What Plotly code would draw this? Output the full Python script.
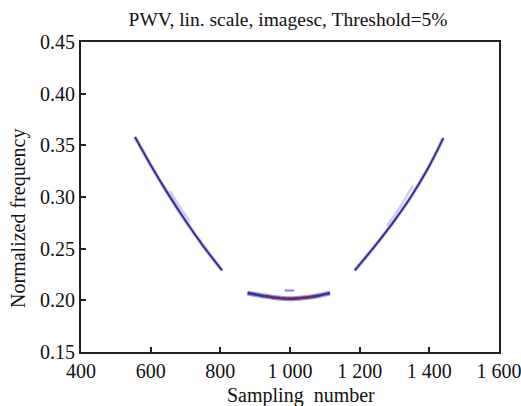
import plotly.graph_objects as go

# Data
left_x = [555, 600, 650, 700, 750, 805]
left_y = [0.358, 0.331, 0.303, 0.277, 0.253, 0.229]
right_x = [1186, 1240, 1295, 1345, 1395, 1440]
right_y = [0.229, 0.251, 0.275, 0.299, 0.327, 0.357]
bottom_x = [878, 920, 960, 1000, 1040, 1080, 1115]
bottom_y = [0.207, 0.2045, 0.2025, 0.2015, 0.2025, 0.2045, 0.207]
core_x = [930, 965, 1000, 1035, 1070]
core_y = [0.2038, 0.2024, 0.2015, 0.2024, 0.2038]
ghost_l_x = [655, 685, 713]
ghost_l_y = [0.306, 0.290, 0.276]
ghost_r_x = [1278, 1315, 1353]
ghost_r_y = [0.272, 0.290, 0.311]
tick_dash_x = [985, 1012]
tick_dash_y = [0.2095, 0.2095]

x_ticks = [400, 600, 800, 1000, 1200, 1400, 1600]
x_ticktext = ["400", "600", "800", "1 000", "1 200", "1 400", "1 600"]
y_ticks = [0.15, 0.20, 0.25, 0.30, 0.35, 0.40, 0.45]
y_ticktext = ["0.15", "0.20", "0.25", "0.30", "0.35", "0.40", "0.45"]

fig = go.Figure()
for xs, ys in [(ghost_l_x, ghost_l_y), (ghost_r_x, ghost_r_y)]:
    fig.add_trace(go.Scatter(x=xs, y=ys, mode="lines", line=dict(shape="spline", color="rgba(170,170,220,0.55)", width=2.5), hoverinfo="skip"))
halo = dict(color="rgba(90,90,200,0.3)", width=4)
core = dict(color="#30308e", width=2)
for xs, ys in [(left_x, left_y), (right_x, right_y)]:
    fig.add_trace(go.Scatter(x=xs, y=ys, mode="lines", line=dict(shape="spline", **halo), hoverinfo="skip"))
    fig.add_trace(go.Scatter(x=xs, y=ys, mode="lines", line=dict(shape="spline", **core), hoverinfo="skip"))
fig.add_trace(go.Scatter(x=bottom_x, y=bottom_y, mode="lines", line=dict(shape="spline", color="rgba(70,70,190,0.55)", width=5), hoverinfo="skip"))
fig.add_trace(go.Scatter(x=bottom_x, y=bottom_y, mode="lines", line=dict(shape="spline", color="#32329a", width=2.5), hoverinfo="skip"))
fig.add_trace(go.Scatter(x=core_x, y=core_y, mode="lines", line=dict(shape="spline", color="#7a2858", width=2), hoverinfo="skip"))
fig.add_trace(go.Scatter(x=tick_dash_x, y=tick_dash_y, mode="lines", line=dict(color="rgba(80,80,190,0.7)", width=2), hoverinfo="skip"))

font_family = "Liberation Serif, Times New Roman, serif"
fig.update_layout(
    width=521, height=406,
    margin=dict(l=81, r=22, t=42, b=54, autoexpand=False),
    paper_bgcolor="white", plot_bgcolor="white",
    showlegend=False,
    font=dict(family=font_family, size=20, color="#111"),
    title=dict(text="PWV, lin. scale, imagesc, Threshold=5%", x=0.553, xanchor="center",
               y=0.952, yanchor="middle", font=dict(size=19.5)),
    annotations=[
        dict(text="Sampling  number", xref="paper", yref="paper", x=0.526, y=-0.139,
             xanchor="center", yanchor="middle", showarrow=False, font=dict(size=20)),
        dict(text="Normalized frequency", xref="paper", yref="paper", x=-0.151, y=0.432,
             xanchor="center", yanchor="middle", textangle=-90, showarrow=False, font=dict(size=20)),
    ],
)
fig.update_xaxes(
    range=[400, 1600], tickvals=x_ticks, ticktext=x_ticktext,
    ticks="inside", ticklen=5, tickwidth=1.5, tickcolor="#222",
    showline=True, linecolor="#222", linewidth=2, mirror=True,
    showgrid=False, zeroline=False, tickfont=dict(size=20),
    ticklabeloverflow="allow", automargin=False,
)
fig.update_yaxes(
    range=[0.15, 0.45], tickvals=y_ticks, ticktext=y_ticktext,
    ticks="inside", ticklen=5, tickwidth=1.5, tickcolor="#222",
    showline=True, linecolor="#222", linewidth=2, mirror=True,
    showgrid=False, zeroline=False, tickfont=dict(size=20),
    automargin=False,
)
fig.write_html("out.html")
